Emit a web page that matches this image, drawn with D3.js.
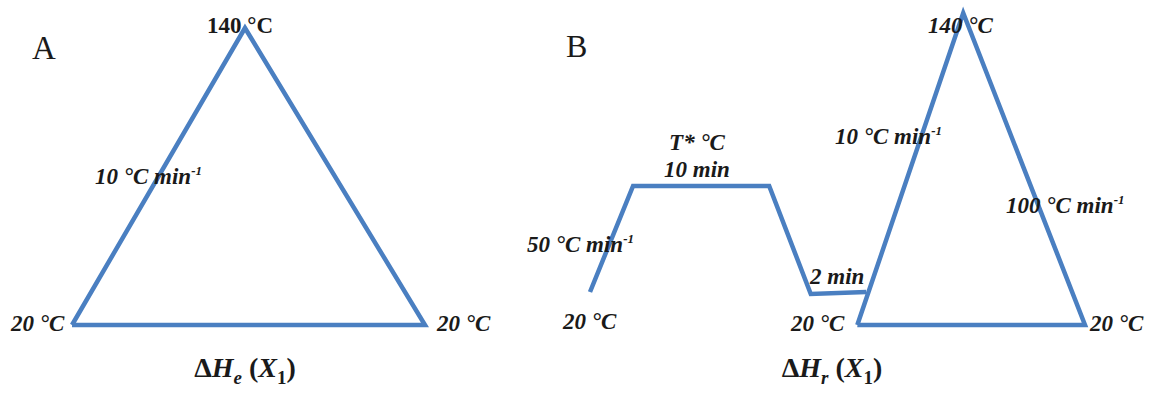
<!DOCTYPE html>
<html>
<head>
<meta charset="utf-8">
<script src="https://cdn.jsdelivr.net/npm/d3@7"></script>
<style>
  body { margin: 0; background: #fff; }
  svg text { font-family: "Liberation Serif", "Times New Roman", serif; fill: #1a1a1a; }
</style>
</head>
<body>
<div id="chart"></div>
<script>
// Schematic temperature programmes (time in arbitrary units, temperature in °C)
const programA = [
  { t: 0, temp: 20 },
  { t: 49, temp: 140 },
  { t: 100, temp: 20 },
  { t: 0, temp: 20 }
];

// annealing part of programme B: heat, hold at T*, cool, hold 2 min
const programB1 = [
  { t: 0, temp: 32.7 },
  { t: 8.7, temp: 73.5 },
  { t: 36.2, temp: 73.5 },
  { t: 44.6, temp: 31.9 },
  { t: 55.8, temp: 32.7 }
];

// scan part of programme B
const programB2 = [
  { t: 54, temp: 20 },
  { t: 75.4, temp: 140 },
  { t: 100, temp: 20 },
  { t: 54, temp: 20 }
];

const panelLabels = ["A", "B"];
const lineColor = "#4a7fc1";

const width = 1149, height = 394;

const svg = d3.select("#chart")
  .append("svg")
  .attr("width", width)
  .attr("height", height);

// scales for each panel
const xA = d3.scaleLinear().domain([0, 100]).range([72, 425]);
const yA = d3.scaleLinear().domain([20, 140]).range([325, 28]);
const xB = d3.scaleLinear().domain([0, 100]).range([590, 1085]);
const yB = d3.scaleLinear().domain([20, 140]).range([325, 13]);

const lineA = d3.line().x(d => xA(d.t)).y(d => yA(d.temp));
const lineB = d3.line().x(d => xB(d.t)).y(d => yB(d.temp));

function drawPath(data, gen) {
  svg.append("path")
    .attr("d", gen(data))
    .attr("fill", "none")
    .attr("stroke", lineColor)
    .attr("stroke-width", 4.5)
    .attr("stroke-linejoin", "miter");
}

drawPath(programA, lineA);
drawPath(programB1, lineB);
drawPath(programB2, lineB);

// panel letters
svg.append("text").attr("x", 32).attr("y", 59)
  .attr("font-size", 33).text(panelLabels[0]);
svg.append("text").attr("x", 566).attr("y", 57)
  .attr("font-size", 32).text(panelLabels[1]);

// helper for bold (italic) labels, with optional "min-1" superscript
function label(x, y, txt, opts) {
  opts = opts || {};
  const t = svg.append("text")
    .attr("x", x).attr("y", y)
    .attr("font-size", opts.size || 23)
    .attr("font-weight", "bold")
    .attr("font-style", opts.italic === false ? "normal" : "italic")
    .attr("text-anchor", opts.anchor || "start");
  t.append("tspan").text(txt);
  if (opts.sup) {
    t.append("tspan")
      .attr("font-size", 13)
      .attr("dy", -9)
      .text("-1");
  }
  return t;
}

// Panel A labels
label(207, 33, "140 °C", { italic: false });
label(95, 184, "10 °C min", { sup: true });
label(11, 331, "20 °C");
label(437, 331, "20 °C");

// Panel B labels
label(697, 150, "T* °C", { anchor: "middle" });
label(697, 177, "10 min", { anchor: "middle" });
label(527, 252, "50 °C min", { sup: true });
label(810, 284, "2 min");
label(563, 329, "20 °C");
label(791, 331, "20 °C");
label(928, 33, "140 °C");
label(835, 144, "10 °C min", { sup: true });
label(1006, 213, "100 °C min", { sup: true });
label(1090, 331, "20 °C");

// axis titles: ΔHe (X1) and ΔHr (X1)
function enthalpy(cx, sub) {
  const t = svg.append("text")
    .attr("x", cx).attr("y", 377)
    .attr("font-size", 28)
    .attr("font-weight", "bold")
    .attr("text-anchor", "middle");
  t.append("tspan").text("Δ");
  t.append("tspan").attr("font-style", "italic").text("H");
  t.append("tspan").attr("font-style", "italic").attr("font-size", 19).attr("dy", 7).text(sub);
  t.append("tspan").attr("dy", -7).text(" (");
  t.append("tspan").attr("font-style", "italic").text("X");
  t.append("tspan").attr("font-size", 19).attr("dy", 7).text("1");
  t.append("tspan").attr("dy", -7).text(")");
}
enthalpy(245, "e");
enthalpy(832, "r");
</script>
</body>
</html>
